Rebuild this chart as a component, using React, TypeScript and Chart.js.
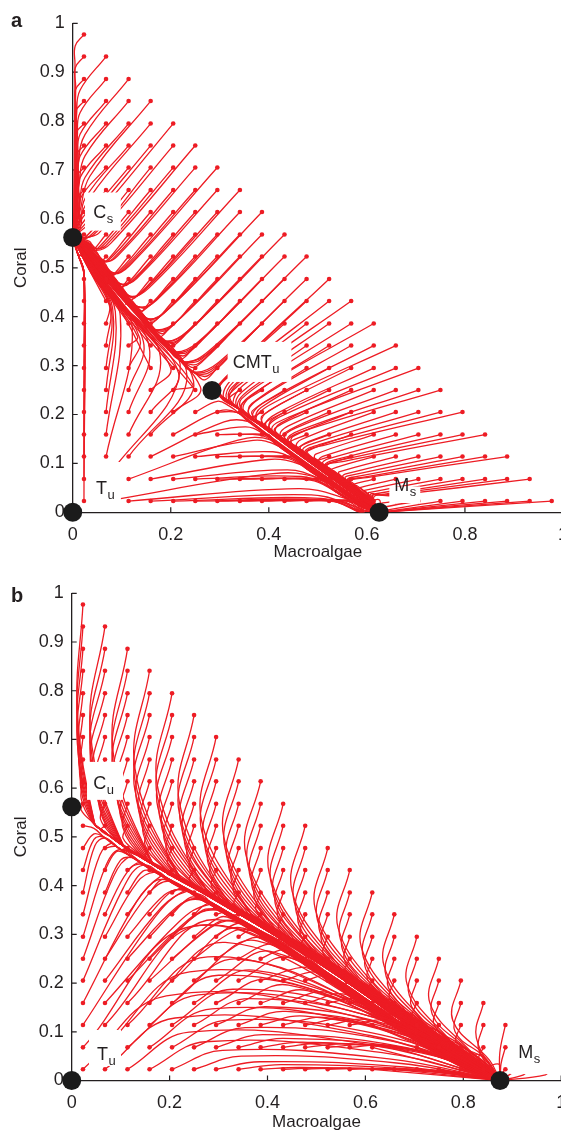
import React, { useEffect, useRef } from "react";
import { Chart, registerables } from "chart.js";

Chart.register(...registerables);

const FONT = '"Liberation Sans", Arial, Helvetica, sans-serif';
const RED = "#ed1c24";
const INK = "#231f20";

// ---- data ----
// starting values of the trajectories (dot grid columns / rows)
const startMacroalgae = [0.023, 0.068, 0.114, 0.159, 0.205, 0.25, 0.295, 0.341, 0.386, 0.432, 0.477, 0.523, 0.568, 0.614, 0.659, 0.705, 0.75, 0.795, 0.841, 0.886, 0.932, 0.977];
const startCoral = [0.023, 0.068, 0.114, 0.159, 0.205, 0.25, 0.295, 0.341, 0.386, 0.432, 0.477, 0.523, 0.568, 0.614, 0.659, 0.705, 0.75, 0.795, 0.841, 0.886, 0.932, 0.977];

const xTickValues = [0, 0.2, 0.4, 0.6, 0.8, 1];
const yTickValues = [0, 0.1, 0.2, 0.3, 0.4, 0.5, 0.6, 0.7, 0.8, 0.9, 1];

// panel a: equilibria (Cs, CMTu, Ms, Tu)
const equilibriaA = [
  { x: 0, y: 0.562 },
  { x: 0.284, y: 0.249 },
  { x: 0.625, y: 0 },
  { x: 0, y: 0 },
];
// panel a: which equilibrium each start dot ends at (C = Cs, M = Ms), top row first
const basinA = [
  "C",
  "CC",
  "CCC",
  "CCCC",
  "CCCCC",
  "CCCCCC",
  "CCCCCCC",
  "CCCCCCCC",
  "CCCCCCCCC",
  "CCCCCCCCCC",
  "CCCCCCCCCCC",
  "CCCCCCCCCCCM",
  "CCCCCCCCCCMMM",
  "CCCCCCCCCMMMMM",
  "CCCCCCCCMMMMMMM",
  "CCCCCCCMMMMMMMMM",
  "CCCCCCMMMMMMMMMMM",
  "CCCCCMMMMMMMMMMMMM",
  "CCCCMMMMMMMMMMMMMMM",
  "CCCMMMMMMMMMMMMMMMMM",
  "CCMMMMMMMMMMMMMMMMMMM",
  "CMMMMMMMMMMMMMMMMMMMMM",
];
// panel a: coral axis above Cs, along which the upper trajectories run
const coralAxisA = [[0, 1], [0, 0.95], [0, 0.9], [0, 0.85], [0, 0.8], [0, 0.75], [0, 0.7], [0, 0.65], [0, 0.6], [0, 0.562]];
// panel a: bundle from CMTu to Cs
const coralManifoldA = [[0.284, 0.249], [0.25, 0.277], [0.21, 0.312], [0.175, 0.347], [0.14, 0.387], [0.1, 0.432], [0.065, 0.474], [0.035, 0.512], [0.013, 0.543], [0, 0.562]];
// panel a: bundle from CMTu to Ms
const algaeManifoldA = [[0.284, 0.249], [0.34, 0.207], [0.4, 0.162], [0.46, 0.117], [0.52, 0.074], [0.57, 0.038], [0.6, 0.017], [0.625, 0]];
// panel a: steepness of the straight first part of the trajectories (by distance from the diagonal)
const slopeAboveDiagA = [0.95, 0.97, 0.99, 1.0, 1.02, 1.04, 1.06, 1.08, 1.1, 1.12, 1.14, 1.16, 1.18, 1.2, 1.22, 1.24, 1.26, 1.28, 1.3, 1.3, 1.3, 1.3];
const slopeBelowDiagA = [1.0, 0.9, 0.8, 0.72, 0.65, 0.58, 0.52, 0.47, 0.42, 0.38, 0.34, 0.3, 0.27, 0.24, 0.21, 0.19, 0.17, 0.15, 0.13, 0.12, 0.1, 0.1];

// panel b: equilibria (Cu, Ms, Tu)
const equilibriaB = [
  { x: 0, y: 0.562 },
  { x: 0.875, y: 0 },
  { x: 0, y: 0 },
];
// panel b: main stream from Cu to Ms
const streamB = [[0, 0.562], [0.03, 0.535], [0.06, 0.51], [0.1, 0.48], [0.15, 0.448], [0.2, 0.418], [0.26, 0.385], [0.32, 0.35], [0.385, 0.312], [0.45, 0.272], [0.5, 0.24], [0.56, 0.2], [0.61, 0.165], [0.66, 0.13], [0.7, 0.102], [0.75, 0.068], [0.8, 0.038], [0.84, 0.016], [0.875, 0]];
// panel b: how far the trajectories below the stream rise (per start column)
const riseFactorB = [2.2, 1.1, 0.7, 0.5, 0.38, 0.3, 0.24, 0.2, 0.16, 0.13, 0.1, 0.08, 0.06, 0.045, 0.035, 0.025, 0.02, 0.015, 0.01, 0.01, 0.01, 0.01];
const riseBaseB = [0.1, 0.08, 0.06, 0.045, 0.03, 0.02, 0.01, 0.005, 0, 0, 0, 0, 0, 0, 0, 0, 0, 0, 0, 0, 0, 0];

// labels (white boxes in data coordinates)
const labelsA = [
  { box: [0.025, 0.098, 0.654, 0.576], at: [0.0419, 0.6024], text: "C", sub: "s" },
  { box: [0.316, 0.446, 0.3485, 0.2666], at: [0.3263, 0.2954], text: "CMT", sub: "u" },
  { box: [0.6458, 0.7089, 0.0528, 0.019], at: [0.656, 0.0426], text: "M", sub: "s" },
  { box: [0.0332, 0.0983, 0.1029, 0.017], at: [0.0474, 0.0375], text: "T", sub: "u" },
];
const labelsB = [
  { box: [0.0313, 0.1048, 0.654, 0.576], at: [0.0441, 0.5986], text: "C", sub: "u" },
  { box: [0.0353, 0.1007, 0.1037, 0.0298], at: [0.0517, 0.0421], text: "T", sub: "u" },
  { box: [0.8956, 0.9895, 0.0975, 0.0133], at: [0.9124, 0.0462], text: "M", sub: "s" },
];

// ---- geometry helpers ----
type Pt = { x: number; y: number };
const toPts = (a: number[][]): Pt[] => a.map(([x, y]) => ({ x, y }));
const clamp = (v: number, a: number, b: number) => Math.max(a, Math.min(b, v));
const mix = (p: Pt, q: Pt, t: number): Pt => ({ x: p.x + (q.x - p.x) * t, y: p.y + (q.y - p.y) * t });

function cumLen(g: Pt[]) {
  const L = [0];
  for (let k = 1; k < g.length; k++) L.push(L[k - 1] + Math.hypot(g[k].x - g[k - 1].x, g[k].y - g[k - 1].y));
  return L;
}
function locateX(g: Pt[], x: number) {
  for (let k = 0; k < g.length - 1; k++) {
    const a = g[k].x, b = g[k + 1].x;
    if (a !== b && (x - a) * (x - b) <= 0) return { seg: k, s: (x - a) / (b - a) };
  }
  return Math.abs(x - g[0].x) < Math.abs(x - g[g.length - 1].x) ? { seg: 0, s: 0 } : { seg: g.length - 2, s: 1 };
}
function pointOn(g: Pt[], seg: number, s: number): Pt {
  return mix(g[seg], g[seg + 1], s);
}
function yAt(g: Pt[], x: number) {
  const { seg, s } = locateX(g, x);
  return g[seg].y + s * (g[seg + 1].y - g[seg].y);
}
function rayHit(p: Pt, d: Pt, g: Pt[]) {
  let best: { seg: number; s: number } | null = null;
  let bestU = Infinity;
  for (let k = 0; k < g.length - 1; k++) {
    const a = g[k], b = g[k + 1];
    const ex = b.x - a.x, ey = b.y - a.y;
    const det = -d.x * ey + ex * d.y;
    if (Math.abs(det) < 1e-12) continue;
    const ax = a.x - p.x, ay = a.y - p.y;
    const u = (-ax * ey + ex * ay) / det;
    const s = (d.x * ay - d.y * ax) / det;
    if (u > 0 && s >= -1e-9 && s <= 1 + 1e-9 && u < bestU) {
      bestU = u;
      best = { seg: k, s: clamp(s, 0, 1) };
    }
  }
  return best;
}
// path along a guide from a merge point to its end, kept a small distance to the side of `from`
function follow(g: Pt[], seg0: number, s0: number, from: Pt, epsMin: number, epsMax: number, adv = 0): Pt[] {
  const L = cumLen(g);
  const total = L[L.length - 1];
  let pos = Math.min(total, L[seg0] + s0 * (L[seg0 + 1] - L[seg0]) + adv);
  let seg = 0;
  while (seg < g.length - 2 && L[seg + 1] < pos) seg++;
  const segLen = L[seg + 1] - L[seg] || 1;
  const s = clamp((pos - L[seg]) / segLen, 0, 1);
  const a = g[seg], b = g[seg + 1];
  const m = mix(a, b, s);
  const Lm = total - pos;
  const end = g[g.length - 1];
  if (Lm < 0.012) return [end];
  const eps = epsMin + (epsMax - epsMin) * (1 - Lm / total);
  const ex = b.x - a.x, ey = b.y - a.y;
  const ref = pointOn(g, seg0, s0);
  const side = ex * (from.y - ref.y) - ey * (from.x - ref.x) >= 0 ? 1 : -1;
  const nrm = (k: number) => {
    const p = g[k], q = g[k + 1];
    const dx = q.x - p.x, dy = q.y - p.y;
    const l = Math.hypot(dx, dy) || 1;
    return { x: (-dy / l) * side, y: (dx / l) * side };
  };
  const out: Pt[] = [];
  const n0 = nrm(seg);
  out.push({ x: Math.max(0.002, m.x + n0.x * eps), y: m.y + n0.y * eps });
  for (let k = seg + 1; k < g.length - 1; k++) {
    const rem = total - L[k];
    if (Lm - rem < 0.015) continue;
    const e = eps * Math.pow(rem / Lm, 0.45);
    const n1 = nrm(k - 1), n2 = nrm(k);
    const nx = n1.x + n2.x, ny = n1.y + n2.y;
    const nl = Math.hypot(nx, ny) || 1;
    out.push({ x: Math.max(0.002, g[k].x + (nx / nl) * e), y: g[k].y + (ny / nl) * e });
  }
  out.push(end);
  return out;
}

function buildPanelA(): Pt[][] {
  const axis = toPts(coralAxisA), cm = toPts(coralManifoldA), mm = toPts(algaeManifoldA);
  const cs = cm[cm.length - 1], saddle = cm[0], ms = mm[mm.length - 1];
  const out: Pt[][] = [];
  for (let j = 0; j < startCoral.length; j++) {
    const row = basinA[startCoral.length - 1 - j] || "";
    for (let i = 0; i + j < startMacroalgae.length; i++) {
      const st = { x: startMacroalgae[i], y: startCoral[j] };
      const basin = row[i] || "M";
      let path: Pt[];
      if (basin === "C") {
        const below = st.x < saddle.x && st.y < yAt(cm, st.x);
        if (!below) {
          const k = slopeAboveDiagA[Math.min(slopeAboveDiagA.length - 1, Math.max(0, j - i))];
          const dir = { x: -1, y: -k };
          const ha = rayHit(st, dir, axis);
          if (ha) {
            const hit = pointOn(axis, ha.seg, ha.s);
            path = [st, mix(st, hit, 0.78), ...follow(axis, ha.seg, ha.s, st, 0.002, 0.016, 0.03)];
          } else {
            const h = rayHit(st, dir, cm);
            if (h) {
              const hit = pointOn(cm, h.seg, h.s);
              path = [st, mix(st, hit, 0.82), ...follow(cm, h.seg, h.s, st, 0.003, 0.026, 0.02)];
            } else path = [st, cs];
          }
        } else {
          // trajectories below the CMTu-Cs bundle: rise and bend into Cs from below
          const f = j > 0 ? 0.7 * Math.pow(i / j, 1.5) : 0;
          const xm = st.x + (saddle.x - st.x) * f;
          const offY = 0.012 + 0.028 * (1 - f / 0.7);
          const turn = { x: xm, y: yAt(cm, xm) - offY };
          const xmid = xm * 0.45;
          const mid = { x: Math.max(0.004, xmid), y: yAt(cm, xmid) - offY * 0.45 };
          path = turn.y > st.y + 0.01 ? [st, turn, mid, cs] : [st, mid, cs];
        }
      } else {
        const above = st.x >= ms.x || (st.x >= saddle.x && st.y > yAt(mm, st.x));
        if (above) {
          const k = slopeBelowDiagA[Math.min(slopeBelowDiagA.length - 1, Math.max(0, i - j))];
          const yS = st.y - k * (st.x - saddle.x);
          if (yS >= saddle.y) {
            path = [st, mix(st, saddle, 0.85), ...follow(mm, 0, 0, st, 0.002, 0.022, 0.015)];
          } else {
            const h = rayHit(st, { x: -1, y: -k }, mm);
            if (h) {
              const hit = pointOn(mm, h.seg, h.s);
              path = [st, mix(st, hit, 0.82), ...follow(mm, h.seg, h.s, st, 0.002, 0.022, 0.02)];
            } else path = [st, ms];
          }
        } else {
          let xm: number;
          if (st.x >= saddle.x) {
            const r = Math.min(1, st.y / yAt(mm, st.x));
            xm = st.x + (ms.x - st.x) * (1 - r);
          } else {
            const r = Math.min(1, st.y / ((saddle.y / saddle.x) * st.x));
            xm = saddle.x + (ms.x - saddle.x) * (1 - r);
          }
          if (xm > 0.605) path = [st, ms];
          else {
            const loc = locateX(mm, xm);
            const hit = pointOn(mm, loc.seg, loc.s);
            path = [st, mix(st, hit, 0.8), ...follow(mm, loc.seg, loc.s, st, 0.002, 0.02, 0.02)];
          }
        }
      }
      out.push(path);
    }
  }
  return out;
}

function buildPanelB(): Pt[][] {
  const g = toPts(streamB);
  const ms = g[g.length - 1];
  const out: Pt[][] = [];
  for (let j = 0; j < startCoral.length; j++) {
    for (let i = 0; i + j < startMacroalgae.length; i++) {
      const st = { x: startMacroalgae[i], y: startCoral[j] };
      const yg0 = yAt(g, st.x);
      let path: Pt[];
      if (st.y > yg0) {
        const gap = st.y - yg0;
        const b = Math.min(0.03, st.x * 0.5) * clamp(gap / 0.3, 0.3, 1);
        const bow = { x: st.x - b, y: yg0 + 0.5 * gap };
        const xm = st.x + Math.min(0.05, st.x * 0.25) * clamp(gap / 0.3, 0, 1);
        if (xm >= 0.855) path = [st, bow, ms];
        else {
          const loc = locateX(g, xm);
          path = [st, bow, ...follow(g, loc.seg, loc.s, st, 0.003, 0.03, 0.02)];
        }
      } else if (st.x > 0.6) {
        path = [st, ms];
      } else {
        const rise = riseFactorB[i] * st.y + riseBaseB[i];
        const xp = Math.min(0.8, st.x + 0.08 + 0.6 * Math.min(rise, 0.25));
        const yp = st.y + rise;
        const ygp = yAt(g, xp);
        if (yp > ygp - 0.012) {
          const frac = (yg0 - st.y) / (yg0 - st.y + (yp - ygp));
          const xm = Math.max(st.x + 0.03, st.x + frac * (xp - st.x));
          const loc = locateX(g, xm);
          const hit = pointOn(g, loc.seg, loc.s);
          path = [st, mix(st, hit, 0.75), ...follow(g, loc.seg, loc.s, st, 0.003, 0.025, 0.02)];
        } else {
          const xq = xp + 0.6 * (ms.x - xp);
          const yq = Math.max(0.003, Math.min(yp * 0.72, yAt(g, xq) - 0.01));
          path = [st, { x: xp, y: yp }, { x: xq, y: yq }, ms];
        }
      }
      out.push(path);
    }
  }
  return out;
}

function gridDots(): Pt[] {
  const d: Pt[] = [];
  for (let j = 0; j < startCoral.length; j++)
    for (let i = 0; i + j < startMacroalgae.length; i++) d.push({ x: startMacroalgae[i], y: startCoral[j] });
  return d;
}

type Spec = {
  equilibria: Pt[];
  trajectories: Pt[][];
  labels: { box: number[]; at: number[]; text: string; sub: string }[];
  letter: string;
  letterPos: number[];
  padRight: number;
  yWidth: number;
  xHeight: number;
  titlePad: number;
};

function makeDecor(spec: Spec) {
  return {
    id: "decor",
    beforeDatasetsDraw(chart: any) {
      const { ctx, chartArea, scales } = chart;
      const x = scales.x, y = scales.y;
      ctx.save();
      ctx.strokeStyle = INK;
      ctx.lineWidth = 1.2;
      ctx.beginPath();
      for (const v of xTickValues) {
        const px = x.getPixelForValue(v);
        ctx.moveTo(px, chartArea.bottom);
        ctx.lineTo(px, chartArea.bottom - 5);
      }
      for (const v of yTickValues) {
        const py = y.getPixelForValue(v);
        ctx.moveTo(chartArea.left, py);
        ctx.lineTo(chartArea.left + 5, py);
      }
      ctx.stroke();
      ctx.restore();
    },
    afterDatasetsDraw(chart: any) {
      const { ctx, scales } = chart;
      const x = scales.x, y = scales.y;
      ctx.save();
      for (const lab of spec.labels) {
        const x1 = x.getPixelForValue(lab.box[0]), x2 = x.getPixelForValue(lab.box[1]);
        const y1 = y.getPixelForValue(lab.box[2]), y2 = y.getPixelForValue(lab.box[3]);
        ctx.fillStyle = "#ffffff";
        ctx.fillRect(Math.min(x1, x2), Math.min(y1, y2), Math.abs(x2 - x1), Math.abs(y2 - y1));
        const tx = x.getPixelForValue(lab.at[0]), ty = y.getPixelForValue(lab.at[1]);
        ctx.fillStyle = INK;
        ctx.textAlign = "left";
        ctx.textBaseline = "alphabetic";
        ctx.font = `18px ${FONT}`;
        ctx.fillText(lab.text, tx, ty);
        const w = ctx.measureText(lab.text).width;
        ctx.font = `13px ${FONT}`;
        ctx.fillText(lab.sub, tx + w + 0.5, ty + 5);
      }
      ctx.fillStyle = INK;
      ctx.font = `bold 20px ${FONT}`;
      ctx.textAlign = "left";
      ctx.textBaseline = "alphabetic";
      ctx.fillText(spec.letter, spec.letterPos[0], spec.letterPos[1]);
      ctx.restore();
    },
  };
}

function makeChart(canvas: HTMLCanvasElement, spec: Spec) {
  const datasets: any[] = [
    { data: spec.equilibria, showLine: false, pointRadius: 9.5, pointBackgroundColor: "#1b1b1b", pointBorderWidth: 0, clip: false },
    { data: gridDots(), showLine: false, pointRadius: 2.3, pointBackgroundColor: RED, pointBorderWidth: 0 },
    ...spec.trajectories.map((t) => ({
      data: t,
      showLine: true,
      borderColor: RED,
      borderWidth: 1.3,
      pointRadius: 0,
      tension: 0.4,
      fill: false,
    })),
  ];
  return new Chart(canvas, {
    type: "scatter",
    data: { datasets },
    options: {
      animation: false,
      responsive: false,
      maintainAspectRatio: false,
      events: [],
      layout: { padding: { left: 0, right: spec.padRight, top: 23.3, bottom: 0 } },
      plugins: { legend: { display: false }, tooltip: { enabled: false } },
      scales: {
        x: {
          type: "linear",
          min: 0,
          max: 1,
          position: "bottom",
          grid: { display: false, drawTicks: false },
          border: { display: true, color: INK, width: 1.3 },
          afterBuildTicks: (s: any) => {
            s.ticks = xTickValues.map((v) => ({ value: v }));
          },
          ticks: { padding: 12, color: INK, font: { family: FONT, size: 18 }, maxRotation: 0, autoSkip: false, callback: (v: any) => String(v) },
          title: { display: true, text: "Macroalgae", color: INK, font: { family: FONT, size: 17 }, padding: { top: 0, bottom: spec.titlePad } },
          afterFit: (s: any) => {
            s.height = spec.xHeight;
          },
        },
        y: {
          type: "linear",
          min: 0,
          max: 1,
          position: "left",
          grid: { display: false, drawTicks: false },
          border: { display: true, color: INK, width: 1.3 },
          afterBuildTicks: (s: any) => {
            s.ticks = yTickValues.map((v) => ({ value: v }));
          },
          ticks: { padding: 8, color: INK, font: { family: FONT, size: 18 }, autoSkip: false, callback: (v: any) => String(v) },
          title: { display: true, text: "Coral", color: INK, font: { family: FONT, size: 17 }, padding: { top: 10.8, bottom: 0 } },
          afterFit: (s: any) => {
            s.width = spec.yWidth;
          },
        },
      },
    } as any,
    plugins: [makeDecor(spec) as any],
  });
}

export default function App() {
  const refA = useRef<HTMLCanvasElement>(null);
  const refB = useRef<HTMLCanvasElement>(null);
  useEffect(() => {
    const specA: Spec = {
      equilibria: equilibriaA,
      trajectories: buildPanelA(),
      labels: labelsA,
      letter: "a",
      letterPos: [11, 27],
      padRight: 16,
      yWidth: 72.7,
      xHeight: 57.7,
      titlePad: 7.8,
    };
    const specB: Spec = {
      equilibria: equilibriaB,
      trajectories: buildPanelB(),
      labels: labelsB,
      letter: "b",
      letterPos: [11, 32],
      padRight: 18.8,
      yWidth: 71.7,
      xHeight: 54.5,
      titlePad: 2.8,
    };
    const a = makeChart(refA.current as HTMLCanvasElement, specA);
    const b = makeChart(refB.current as HTMLCanvasElement, specB);
    return () => {
      a.destroy();
      b.destroy();
    };
  }, []);
  return (
    <div style={{ position: "absolute", left: 0, top: 0, width: 561, height: 1130, overflow: "hidden", background: "#ffffff" }}>
      <canvas ref={refA} width={580} height={570} style={{ position: "absolute", left: 0, top: 0, width: 580, height: 570 }} />
      <canvas ref={refB} width={580} height={565} style={{ position: "absolute", left: 0, top: 570, width: 580, height: 565 }} />
    </div>
  );
}
